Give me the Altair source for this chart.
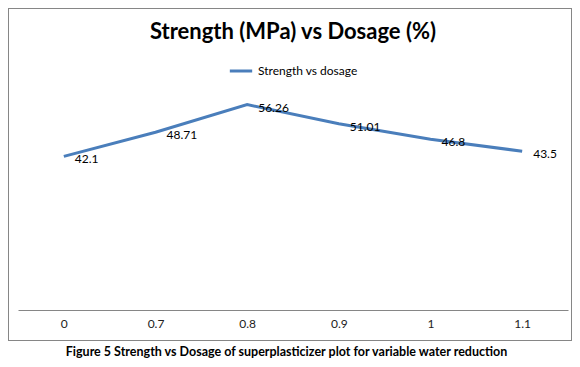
import altair as alt
import pandas as pd

dosage = ["0", "0.7", "0.8", "0.9", "1", "1.1"]
strength = [42.1, 48.71, 56.26, 51.01, 46.8, 43.5]
series = ["Strength vs dosage"] * 6
labels = ["42.1", "48.71", "56.26", "51.01", "46.8", "43.5"]

df = pd.DataFrame({"dosage": dosage, "strength": strength, "series": series, "label": labels})

FONT = "Lato"

x = alt.X("dosage:N", sort=dosage,
          scale=alt.Scale(paddingInner=0, paddingOuter=0),
          axis=alt.Axis(title="Figure 5 Strength vs Dosage of superplasticizer plot for variable water reduction",
                        titleFont=FONT, titleFontSize=12.5, titleFontWeight="bold", titleColor="#000000",
                        titlePadding=16, titleX=268, labelAngle=0, labelFont=FONT, labelFontSize=12,
                        labelColor="#222222", labelPadding=8, ticks=False,
                        domainColor="#868686", domainWidth=1, grid=False))
y = alt.Y("strength:Q", scale=alt.Scale(domain=[0, 60]), axis=None)

line = alt.Chart(df).mark_line(strokeWidth=3).encode(
    x=x, y=y,
    color=alt.Color("series:N", scale=alt.Scale(domain=["Strength vs dosage"], range=["#4A7EBB"]),
                    legend=alt.Legend(title=None, orient="none", legendX=210, legendY=-33,
                                      symbolType="stroke", symbolStrokeWidth=3, symbolSize=500,
                                      labelFont=FONT, labelFontSize=12, labelColor="#000000",
                                      labelOffset=4))
)

text = alt.Chart(df).mark_text(align="left", baseline="middle", dx=11, dy=3,
                               font=FONT, fontSize=12, color="#000000").encode(
    x=x, y=y, text="label:N")

frame = alt.Chart(df).mark_rect(fill=None, stroke="#868686", strokeWidth=1).encode(
    x=alt.value(-9.5), x2=alt.value(553.5), y=alt.value(-82.5), y2=alt.value(249.5))

chart = alt.layer(frame, line, text).properties(
    width=550, height=219,
    autosize=alt.AutoSizeParams(type="none"),
    padding={"left": 10, "top": 83, "right": 4, "bottom": 49},
    background="#ffffff",
    title=alt.Title("Strength (MPa) vs Dosage (%)", font=FONT, fontSize=22, fontWeight="bold",
                    color="#000000", anchor="middle", offset=-36),
).configure_view(stroke=None)

chart.save("out.html", embed_options={"renderer": "svg", "actions": False})
